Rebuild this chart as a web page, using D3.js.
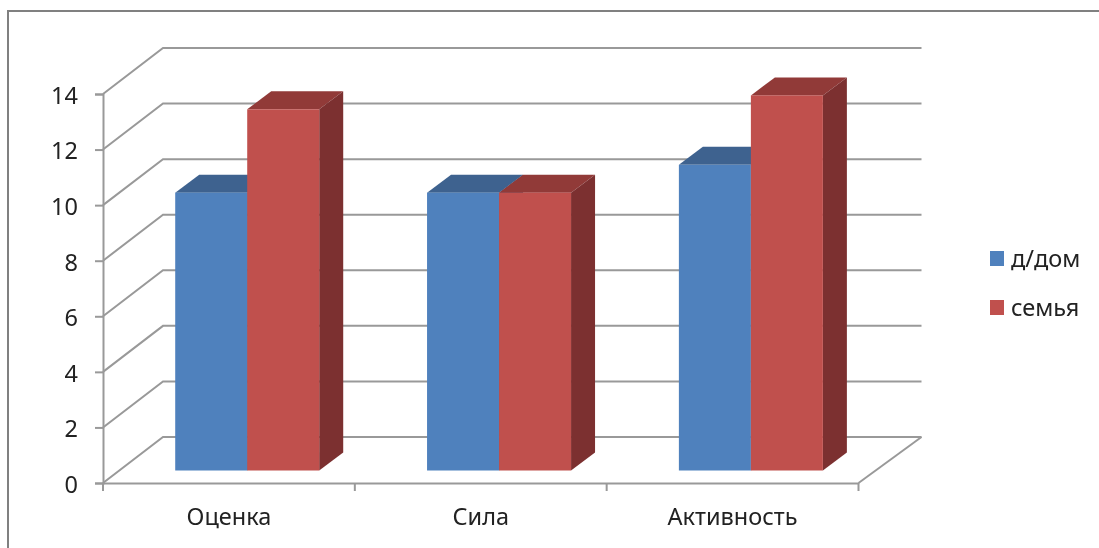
<!DOCTYPE html>
<html>
<head>
<meta charset="utf-8">
<script src="https://cdn.jsdelivr.net/npm/d3@7"></script>
<style>
    html, body { margin: 0; padding: 0; background: #fff; overflow: hidden; }
    text { font-family: "Noto Sans", "Open Sans", sans-serif; fill: #222; }
    svg { filter: blur(0.5px); }
</style>
</head>
<body>
<div id="chart"></div>
<script>
const categories = ['Оценка', 'Сила', 'Активность'];
const seriesNames = ['д/дом', 'семья'];
const domValues = [10, 10, 11];
const familyValues = [13, 10, 13.5];
const yTicks = [0, 2, 4, 6, 8, 10, 12, 14];

const width = 1099;
const height = 548;
const gridColor = '#999999';

// Front faces use these colours, top and side are the darker shades
const colors = {
    'д/дом': { front: '#4f81bd', top: '#3e628f', side: '#3a5f8c' },
    'семья': { front: '#c0504d', top: '#913a38', side: '#7c3030' },
};

const svg = d3
    .select('#chart')
    .append('svg')
    .attr('width', width)
    .attr('height', height);

// Outer frame, only top and left edges are in the picture
svg.append('path')
    .attr('d', 'M8,548V11H1099')
    .attr('fill', 'none')
    .attr('stroke', '#808080')
    .attr('stroke-width', 2);

const x0 = d3.scaleBand().domain(categories).range([103, 858.5]);
const barsWidth = 144;
const x1 = d3.scaleBand().domain(seriesNames).range([0, barsWidth]);
const y = d3.scaleLinear().domain([0, 14]).range([483, 94]);

// Depth of the 3d box and of the bars in it
const wallDepth = { x: 60, y: -46 };
const barShift = { x: 18.3, y: -12.5 };
const barDepth = { x: 24, y: -18 };

const grid = svg.append('g')
    .attr('fill', 'none')
    .attr('stroke', gridColor)
    .attr('stroke-width', 2);

// Back wall lines and the diagonals on the side wall
grid.selectAll('.wall')
    .data(yTicks)
    .enter()
    .append('path')
    .attr('class', 'wall')
    .attr('d', d => 'M' + x0.range()[0] + ',' + y(d)
        + 'l' + wallDepth.x + ',' + wallDepth.y
        + 'H' + (x0.range()[1] + wallDepth.x + 3));

// Floor edge on the right
grid.append('path')
    .attr('d', 'M' + x0.range()[1] + ',' + y(0)
        + 'L' + (x0.range()[1] + wallDepth.x + 3) + ',' + (y(0) + wallDepth.y));

const yAxis = svg.append('g')
    .attr('transform', 'translate(103,0)')
    .call(d3.axisLeft(y).tickValues(yTicks).tickSize(8).tickPadding(17).tickFormat(d3.format('d')));
yAxis.selectAll('line').attr('stroke', gridColor).attr('stroke-width', 2);
yAxis.select('.domain').attr('stroke', gridColor).attr('stroke-width', 2);
yAxis.selectAll('text')
    .attr('dy', '0.4em')
    .style('font-size', '23.5px');

const xAxis = svg.append('g')
    .attr('transform', 'translate(0,483)')
    .call(d3.axisBottom(x0).tickSize(0).tickPadding(25));
xAxis.select('.domain').attr('stroke', gridColor).attr('stroke-width', 2);
xAxis.selectAll('text').style('font-size', '23.5px');

// Tick marks sit on the category borders, not the centres
const borders = categories.map(c => x0(c)).concat(x0.range()[1]);
xAxis.selectAll('.border')
    .data(borders)
    .enter()
    .append('line')
    .attr('class', 'border')
    .attr('x1', d => d)
    .attr('x2', d => d)
    .attr('y1', 0)
    .attr('y2', 8)
    .attr('stroke', gridColor)
    .attr('stroke-width', 2);

const barData = [];
categories.forEach((c, i) => {
    barData.push({ category: c, series: seriesNames[0], value: domValues[i] });
    barData.push({ category: c, series: seriesNames[1], value: familyValues[i] });
});

const barLeft = d => x0(d.category) + (x0.bandwidth() - barsWidth) / 2 + barShift.x + x1(d.series);
const barTop = d => y(d.value) + barShift.y;
const barBottom = y(0) + barShift.y;

const bars = svg.append('g')
    .selectAll('g')
    .data(barData)
    .enter()
    .append('g');

bars.append('path')
    .attr('fill', d => colors[d.series].top)
    .attr('d', d => 'M' + barLeft(d) + ',' + barTop(d)
        + 'l' + barDepth.x + ',' + barDepth.y
        + 'h' + x1.bandwidth()
        + 'l' + (-barDepth.x) + ',' + (-barDepth.y) + 'Z');

bars.append('path')
    .attr('fill', d => colors[d.series].side)
    .attr('d', d => 'M' + (barLeft(d) + x1.bandwidth()) + ',' + barTop(d)
        + 'l' + barDepth.x + ',' + barDepth.y
        + 'V' + (barBottom + barDepth.y)
        + 'l' + (-barDepth.x) + ',' + (-barDepth.y) + 'Z');

bars.append('rect')
    .attr('x', barLeft)
    .attr('y', barTop)
    .attr('width', x1.bandwidth())
    .attr('height', d => barBottom - barTop(d))
    .attr('fill', d => colors[d.series].front);

const legend = svg.append('g')
    .selectAll('g')
    .data(seriesNames)
    .enter()
    .append('g')
    .attr('transform', (d, i) => 'translate(990,' + (251 + i * 49) + ')');

legend.append('rect')
    .attr('width', 14)
    .attr('height', 15)
    .attr('fill', d => colors[d].front);

legend.append('text')
    .attr('x', 21)
    .attr('y', 16)
    .style('font-size', '23.5px')
    .text(d => d);
</script>
</body>
</html>
